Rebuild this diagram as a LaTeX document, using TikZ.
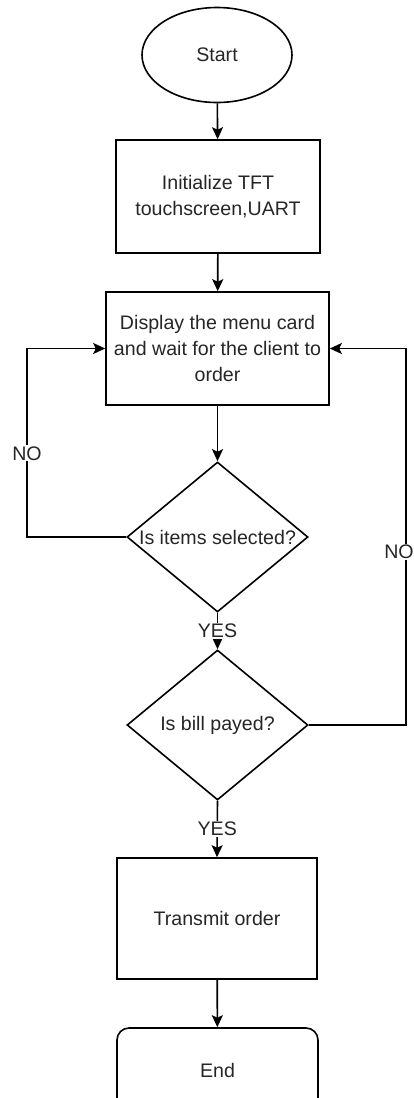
\documentclass[tikz,border=0pt]{standalone}
\usepackage{fontspec}
\setmainfont{Liberation Sans}
\usetikzlibrary{shapes.geometric,arrows.meta,calc}
\begin{document}
\begin{tikzpicture}[x=1pt,y=-1pt,
  every node/.style={font=\fontsize{19.6}{26}\selectfont, text=black!85},
  box/.style={draw=black, line width=1.6pt, rectangle, inner sep=0pt, align=center},
  dec/.style={draw=black, line width=1.6pt, diamond, inner sep=0pt, minimum width=181pt, minimum height=150pt},
  arr/.style={draw=black, line width=1.6pt, -{Stealth[length=12pt,width=11pt,inset=2.5pt]}},
  lab/.style={fill=white, inner sep=1pt}]
\useasboundingbox (0,0) rectangle (414,1098);
\fill[white] (0,0) rectangle (414,1098);
\node[draw=black, line width=1.6pt, ellipse, minimum width=150pt, minimum height=95pt, inner sep=0pt] (start) at (217,55) {Start};
\node[box, minimum width=204pt, minimum height=113pt] (init) at (218,196.5) {Initialize TFT\\touchscreen,UART};
\node[box, minimum width=223pt, minimum height=113pt] (disp) at (217.5,348.5) {Display the menu card\\and wait for the client to\\order};
\node[dec, label={center:Is items selected?}] (d1) at (217.5,537) {};
\node[dec, label={center:Is bill payed?}] (d2) at (217.5,725) {};
\node[box, minimum width=200pt, minimum height=121pt] (tx) at (217,918.5) {Transmit order};
\node[box, rounded corners=12pt, minimum width=201pt, minimum height=84pt] (end) at (217.5,1070) {End};
\coordinate (lc) at (27,348.5);
\coordinate (rc) at (406,348.5);
\draw[arr] (start) -- (init);
\draw[arr] (init) -- (disp);
\draw[arr] (disp) -- (d1);
\draw[arr] (d1.south) -- node[lab]{YES} (d2.north);
\draw[arr] (d2.south) -- node[lab]{YES} (tx.north);
\draw[arr] (tx) -- (end);
\draw[arr] (d1.west) -| node[lab, pos=0.722]{NO} (lc) -- (disp.west);
\draw[arr] (d2.east) -| node[lab, pos=0.73, xshift=-7pt]{NO} (rc) -- (disp.east);
\end{tikzpicture}
\end{document}
